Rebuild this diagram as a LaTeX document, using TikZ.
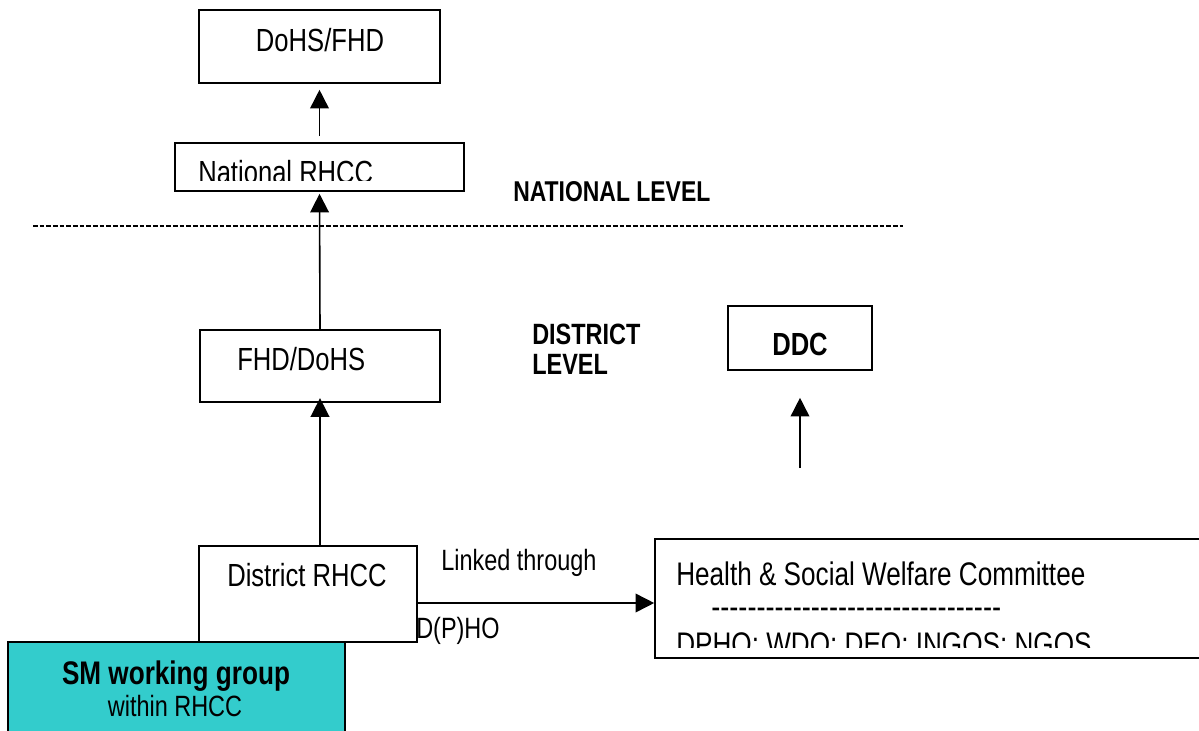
\documentclass[tikz,border=0pt]{standalone}
\usepackage{fontspec}
\setmainfont{Liberation Sans}[FakeStretch=0.8]
\usetikzlibrary{arrows.meta, calc, fit}
\definecolor{smteal}{HTML}{33CCCC}
\newcommand{\hyphenrow}{\foreach \k in {1,...,32}{\mbox{-}}}

\begin{document}
\begin{tikzpicture}[x=0.75pt, y=-0.75pt,
  box/.style={draw, line width=1.2pt, inner sep=0pt},
  txt/.style={anchor=base west, inner sep=0pt, font=\fontsize{24}{28}\selectfont},
  lvl/.style={anchor=base west, inner sep=0pt, font=\fontsize{21.5}{22.5}\selectfont\bfseries},
  up/.style={-{Triangle[length=14pt, width=14pt]}, line width=1.2pt}]
\clip (0,0) rectangle (1199,731);
\node[box, fit={(199,10) (440,83)}] (dohs) {};
\node[txt, anchor=base] (dohstext) at (320,52) {DoHS/FHD};
\node[box, fit={(175,143) (464,191)}] (natl) {};
\begin{scope}
\clip (175,143) rectangle (464,181);
\node[txt] (natltext) at (198,184) {National RHCC};
\end{scope}
\draw[up, shorten <=4.5pt, shorten >=4.5pt] (natl.north) -- (dohs.south);
\node[lvl] (natlevel) at (513,201) {NATIONAL LEVEL};
\coordinate (sepleft) at (33,226);
\coordinate (sepright) at (903,226);
\draw[line width=1pt, dash pattern=on 3.4pt off 1.6pt] (sepleft) -- (sepright);
\node[box, fit={(200,330) (440,402)}] (fhd) {};
\node[txt] (fhdtext) at (237,370) {FHD/DoHS};
\draw[up, shorten >=1.5pt] (fhd.north) -- (natl.south);
\node[lvl, anchor=north west, align=left, font=\fontsize{22}{22.5}\selectfont\bfseries] (distlevel) at (532,324) {DISTRICT\\LEVEL};
\node[box, fit={(728,306) (872,370)}] (ddc) {};
\node[txt, anchor=base, font=\fontsize{24}{28}\selectfont\bfseries] (ddctext) at (800,355) {DDC};
\coordinate (ddcfoot) at (800,468);
\draw[up, shorten >=20.25pt] (ddcfoot) -- (ddc.south);
\node[box, fit={(199,546) (417,642)}] (district) {};
\node[txt] (districttext) at (227,586) {District RHCC};
\draw[up, shorten >=-3.5pt] (fhd.south |- district.north) -- (fhd.south);
\node[box, fit={(655,539) (1210,658)}] (hswc) {};
\node[txt, font=\fontsize{24.5}{28}\selectfont] (hswctext) at (676,585) {Health \& Social Welfare Committee};
\node[txt, font=\fontsize{25.5}{28}\selectfont] (hswcrule) at (711,618) {\hyphenrow};
\begin{scope}
\clip (655,539) rectangle (1199,647);
\node[txt, font=\fontsize{24.5}{28}\selectfont] (hswcmembers) at (676,655) {DPHO: WDO: DEO: INGOS: NGOS};
\end{scope}
\coordinate (linkstart) at ($(district.east)+(0,9)$);
\draw[up] (linkstart) -- (linkstart -| hswc.west);
\node[txt, font=\fontsize{22}{24}\selectfont] (linktext) at (441,570) {Linked through};
\node[txt, font=\fontsize{22}{24}\selectfont] (dphotext) at (416,638) {D(P)HO};
\node[box, fill=smteal, fit={(8,642) (345,745)}] (smgroup) {};
\node[txt, anchor=base, font=\fontsize{24.5}{26}\selectfont\bfseries] (smtext) at (176,684) {SM working group};
\node[txt, anchor=base, font=\fontsize{22}{24}\selectfont] (smwithin) at (175,716) {within RHCC};
\end{tikzpicture}
\end{document}
